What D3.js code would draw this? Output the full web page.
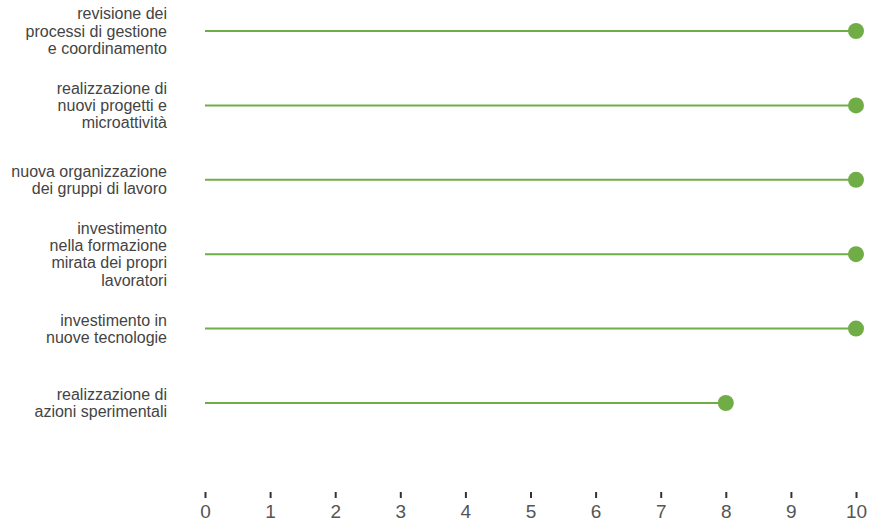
<!DOCTYPE html>
<html><head><meta charset="utf-8">
<script src="https://cdn.jsdelivr.net/npm/d3@7"></script>
<style>body{margin:0;background:#fff}svg{display:block}</style>
</head><body>
<script>
const categories = [
  ["revisione dei","processi di gestione","e coordinamento"],
  ["realizzazione di","nuovi progetti e","microattività"],
  ["nuova organizzazione","dei gruppi di lavoro"],
  ["investimento","nella formazione","mirata dei propri","lavoratori"],
  ["investimento in","nuove tecnologie"],
  ["realizzazione di","azioni sperimentali"]
];
const values = [10, 10, 10, 10, 10, 8];
const tickValues = [0,1,2,3,4,5,6,7,8,9,10];

const W = 871, H = 527;
const svg = d3.select("body").append("svg").attr("width", W).attr("height", H);
const x = d3.scaleLinear().domain([0, 10]).range([205, 856]);
const y = d3.scalePoint().domain(d3.range(categories.length)).range([31, 403]);
const green = "#70ad47";
const font = "'Liberation Sans', Arial, sans-serif";

// axis
const ax = svg.append("g").attr("transform", "translate(0,492)")
  .call(d3.axisBottom(x).tickValues(tickValues).tickSize(6).tickPadding(7).tickFormat(d3.format("d")));
ax.select(".domain").remove();
ax.selectAll(".tick line").attr("stroke", "#333").attr("stroke-width", 2);
ax.selectAll(".tick text").attr("fill", "#555").attr("font-size", 19)
  .attr("font-family", font);

// labels
const lh = 17.3;
categories.forEach((lines, i) => {
  const t = svg.append("text").attr("text-anchor", "end").attr("fill", "#444")
    .attr("font-size", 16).attr("font-family", font);
  const y0 = y(i) - (lines.length - 1) * lh / 2;
  lines.forEach((l, k) => t.append("tspan").attr("x", 167).attr("y", y0 + k * lh).attr("dy", "0.35em").text(l));
});

// lollipops
svg.append("g").selectAll("line").data(values).join("line")
  .attr("x1", x(0)).attr("x2", d => x(d))
  .attr("y1", (d, i) => y(i)).attr("y2", (d, i) => y(i))
  .attr("stroke", green).attr("stroke-width", 2);
svg.append("g").selectAll("circle").data(values).join("circle")
  .attr("cx", d => x(d)).attr("cy", (d, i) => y(i)).attr("r", 8).attr("fill", green);
</script>
</body></html>
